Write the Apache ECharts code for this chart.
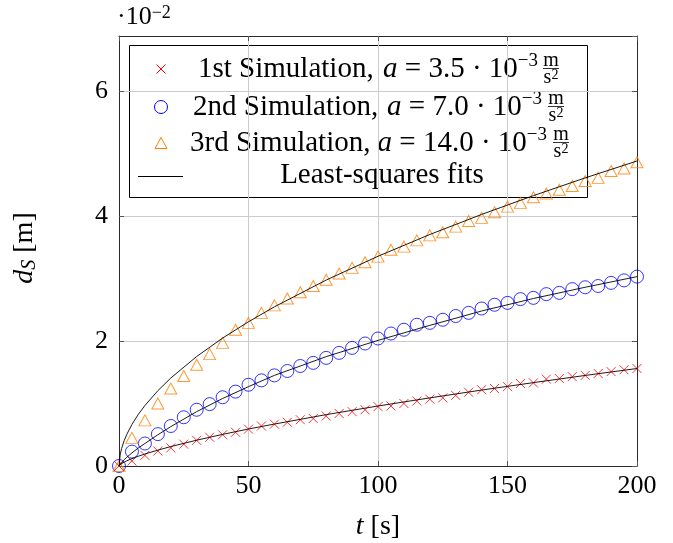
<!DOCTYPE html>
<html>
<head>
<meta charset="utf-8">
<script src="https://cdn.jsdelivr.net/npm/echarts@6/dist/echarts.min.js"></script>
<style>
  html, body { margin: 0; padding: 0; background: #ffffff; }
  #chart { width: 673px; height: 543px; }
</style>
</head>
<body>
<div id="chart"></div>
<script>
// Sample times of the three simulations [s]
const timeS = [0, 5, 10, 15, 20, 25, 30, 35, 40, 45, 50, 55, 60, 65, 70, 75, 80, 85, 90, 95, 100,
  105, 110, 115, 120, 125, 130, 135, 140, 145, 150, 155, 160, 165, 170, 175, 180, 185, 190, 195, 200];

// Measured displacement d_S [m]
const sim1 = [0, 0.0008, 0.0017, 0.0024, 0.0029, 0.0035, 0.0041, 0.0046, 0.0050, 0.0054, 0.0059,
  0.0064, 0.0067, 0.0070, 0.0074, 0.0076, 0.0080, 0.0084, 0.0087, 0.0090, 0.0095,
  0.0096, 0.0100, 0.0104, 0.0107, 0.0109, 0.0113, 0.0118, 0.0122, 0.0124, 0.0127,
  0.0132, 0.0133, 0.0139, 0.0140, 0.0143, 0.0145, 0.0148, 0.0151, 0.0154, 0.0156];
const sim2 = [0, 0.0023, 0.0036, 0.0051, 0.0064, 0.0078, 0.0090, 0.0099, 0.0110, 0.0119, 0.0130,
  0.0137, 0.0145, 0.0152, 0.0160, 0.0165, 0.0173, 0.0181, 0.0189, 0.0196, 0.0204,
  0.0212, 0.0218, 0.0226, 0.0229, 0.0234, 0.0240, 0.0245, 0.0252, 0.0258, 0.0261,
  0.0267, 0.0269, 0.0275, 0.0277, 0.0283, 0.0286, 0.0288, 0.0293, 0.0297, 0.0303];
const sim3 = [0, 0.0045, 0.0073, 0.0100, 0.0124, 0.0144, 0.0162, 0.0179, 0.0197, 0.0218, 0.0229,
  0.0245, 0.0257, 0.0268, 0.0278, 0.0288, 0.0298, 0.0308, 0.0317, 0.0326, 0.0335,
  0.0346, 0.0351, 0.0361, 0.0369, 0.0374, 0.0383, 0.0392, 0.0397, 0.0406, 0.0415,
  0.0421, 0.0430, 0.0436, 0.0442, 0.0448, 0.0456, 0.0461, 0.0472, 0.0476, 0.0486];

// Least-squares fit curves, sampled
const fitTime = [0, 0.5, 1, 2, 3, 5, 7.5, 10, 15, 20, 30, 40, 50, 60, 80, 100, 120, 140, 160, 180, 200];
const fit1 = [0, 0.00024, 0.00038, 0.00062, 0.00083, 0.00118, 0.00157, 0.00192, 0.00254, 0.00311,
  0.00413, 0.00506, 0.00592, 0.00671, 0.00822, 0.0096, 0.0109, 0.01215, 0.01334, 0.01449, 0.0156];
const fit2 = [0, 0.0003, 0.0006, 0.0010, 0.0014, 0.0021, 0.0029, 0.0036, 0.0050, 0.0063,
  0.0087, 0.0108, 0.0127, 0.0145, 0.0175, 0.0201, 0.0225, 0.0248, 0.0268, 0.0286, 0.0303];
const fit3 = [0, 0.00192, 0.00279, 0.00406, 0.00505, 0.00666, 0.00829, 0.00968, 0.01205, 0.01408,
  0.01752, 0.02047, 0.02308, 0.02547, 0.02975, 0.03356, 0.03704, 0.04025, 0.04326, 0.0461, 0.0488];

// Axis ranges and ticks
const xRange = [0, 200];
const xStep = 50;
const yRange = [0, 0.0688];
const yStep = 0.02;
const yScaleExp = -2;

const serif = 'Liberation Serif';
const pairs = (xs, ys) => xs.map((x, i) => [x, ys[i]]);

const chart = echarts.init(document.getElementById('chart'), null, { renderer: 'canvas' });

const tickStyle = { inside: true, length: 5, lineStyle: { color: '#555555', width: 1 } };
const frameLine = { show: true, onZero: false, lineStyle: { color: '#2a2a2a', width: 1 } };
const gridLine = { show: true, lineStyle: { color: '#cccccc', width: 1 } };

const isOnStep = (v, step) => Math.abs(v / step - Math.round(v / step)) < 1e-6;

const crossPath = 'path://M0,0L10,10M10,0L0,10';
const markerFill = 'rgba(0,0,0,0)';

// Legend box and rows
const legendX = 129, legendY = 45, legendW = 458, legendH = 152;
const supRich = { fontFamily: serif, fontSize: 19, lineHeight: 16, verticalAlign: 'top', fill: '#000' };
const baseRich = { fontFamily: serif, fontSize: 29, lineHeight: 34, fill: '#000' };
const itRich = { fontFamily: serif, fontSize: 29, lineHeight: 34, fontStyle: 'italic', fill: '#000' };

function legendRow(label, accel, y, labelX, mathRight, fracX) {
  return [
    { type: 'text', x: labelX, y: y, style: { text: label, font: '29px ' + serif, fill: '#000', align: 'left', verticalAlign: 'middle' } },
    { type: 'text', x: mathRight, y: y, style: {
        text: '{i|a} = ' + accel + ' · 10{s|−3}', align: 'right', verticalAlign: 'middle',
        rich: { i: itRich, s: supRich, n: baseRich }, font: '29px ' + serif, fill: '#000', lineHeight: 34 } },
    { type: 'text', x: fracX, y: y - 8, style: { text: 'm', font: '20px ' + serif, fill: '#000', align: 'center', verticalAlign: 'middle' } },
    { type: 'line', shape: { x1: fracX - 8, y1: y - 0.5, x2: fracX + 8, y2: y - 0.5 }, style: { stroke: '#000', lineWidth: 0.8 } },
    { type: 'text', x: fracX, y: y + 9, style: { text: 's{t|2}', font: '20px ' + serif, fill: '#000', align: 'center', verticalAlign: 'middle',
        rich: { t: { fontFamily: serif, fontSize: 14, lineHeight: 10, verticalAlign: 'top', fill: '#000' } } } }
  ];
}

const legendChildren = [
  { type: 'rect', shape: { x: legendX + 0.5, y: legendY + 0.5, width: legendW, height: legendH },
    style: { fill: '#ffffff', stroke: '#000000', lineWidth: 1 } },
  // legend markers
  { type: 'line', shape: { x1: 156.5, y1: 64.5, x2: 165.5, y2: 73.5 }, style: { stroke: '#ff0000', lineWidth: 1 } },
  { type: 'line', shape: { x1: 165.5, y1: 64.5, x2: 156.5, y2: 73.5 }, style: { stroke: '#ff0000', lineWidth: 1 } },
  { type: 'circle', shape: { cx: 161, cy: 107, r: 6.5 }, style: { fill: 'none', stroke: '#0000ff', lineWidth: 1 } },
  { type: 'polygon', shape: { points: [[161, 137.5], [167, 148.5], [155, 148.5]] }, style: { fill: 'none', stroke: '#ff8000', lineWidth: 1 } },
  { type: 'line', shape: { x1: 138, y1: 176.5, x2: 183, y2: 176.5 }, style: { stroke: '#000', lineWidth: 1 } },
  { type: 'text', x: 382, y: 175, style: { text: 'Least-squares fits', font: '29px ' + serif, fill: '#000', align: 'center', verticalAlign: 'middle' } }
]
  .concat(legendRow('1st Simulation,', '3.5', 69, 198, 538, 551))
  .concat(legendRow('2nd Simulation,', '7.0', 107, 193, 542, 556))
  .concat(legendRow('3rd Simulation,', '14.0', 143, 190, 547, 561));

const fitLine = (name, ys) => ({
  name: name, type: 'line', data: pairs(fitTime, ys), showSymbol: false, smooth: false,
  lineStyle: { color: '#000', width: 0.9 }, z: 4
});

const option = {
  animation: false,
  backgroundColor: '#ffffff',
  grid: { left: 119, right: 36, top: 36, bottom: 77, containLabel: false },
  xAxis: [
    { type: 'value', position: 'bottom', min: xRange[0], max: xRange[1], interval: xStep,
      axisLine: frameLine, axisTick: tickStyle, splitLine: gridLine,
      axisLabel: { margin: 7, fontFamily: serif, fontSize: 26, color: '#000' } },
    { type: 'value', position: 'top', min: xRange[0], max: xRange[1], interval: xStep,
      axisLine: frameLine, axisTick: tickStyle, splitLine: { show: false }, axisLabel: { show: false } }
  ],
  yAxis: [
    { type: 'value', position: 'left', min: yRange[0], max: yRange[1], interval: yStep,
      axisLine: frameLine, axisTick: tickStyle, splitLine: gridLine,
      axisLabel: { margin: 11, fontFamily: serif, fontSize: 26, color: '#000', showMaxLabel: false,
        formatter: v => isOnStep(v, yStep) ? String(Math.round(v / Math.pow(10, yScaleExp))) : '' } },
    { type: 'value', position: 'right', min: yRange[0], max: yRange[1], interval: yStep,
      axisLine: frameLine, axisTick: tickStyle, splitLine: { show: false }, axisLabel: { show: false } }
  ],
  series: [
    { name: 'sim1', type: 'scatter', data: pairs(timeS, sim1), symbol: crossPath, symbolSize: 9,
      itemStyle: { color: markerFill, borderColor: '#ff0000', borderWidth: 1 }, z: 3 },
    { name: 'sim2', type: 'scatter', data: pairs(timeS, sim2), symbol: 'circle', symbolSize: 13,
      itemStyle: { color: markerFill, borderColor: '#0000ff', borderWidth: 1 }, z: 3 },
    { name: 'sim3', type: 'scatter', data: pairs(timeS, sim3), symbol: 'triangle', symbolSize: [12, 11],
      itemStyle: { color: markerFill, borderColor: '#ff8000', borderWidth: 1 }, z: 3 },
    fitLine('fit1', fit1),
    fitLine('fit2', fit2),
    fitLine('fit3', fit3)
  ],
  graphic: [
    // scale factor of the y axis
    { type: 'text', x: 117, y: 17, z: 50, style: {
        text: '·10{s|−2}', font: '26px ' + serif, fill: '#000', align: 'left', verticalAlign: 'middle',
        rich: { s: { fontFamily: serif, fontSize: 18, lineHeight: 14, verticalAlign: 'top', fill: '#000' } } } },
    // y axis title
    { type: 'text', x: 25, y: 248, rotation: Math.PI / 2, z: 50, style: {
        text: '{i|d}{b|S} [m]', font: '28px ' + serif, fill: '#000', align: 'center', verticalAlign: 'middle', lineHeight: 30,
        rich: {
          i: { fontFamily: serif, fontSize: 28, fontStyle: 'italic', lineHeight: 30, fill: '#000' },
          b: { fontFamily: serif, fontSize: 20, fontStyle: 'italic', lineHeight: 14, verticalAlign: 'bottom', fill: '#000' }
        } } },
    // x axis title
    { type: 'text', x: 378, y: 527, z: 50, style: {
        text: '{i|t} [s]', font: '28px ' + serif, fill: '#000', align: 'center', verticalAlign: 'middle',
        rich: { i: { fontFamily: serif, fontSize: 28, fontStyle: 'italic', fill: '#000' } } } },
    { type: 'group', z: 100, children: legendChildren }
  ]
};

chart.setOption(option);
</script>
</body>
</html>
